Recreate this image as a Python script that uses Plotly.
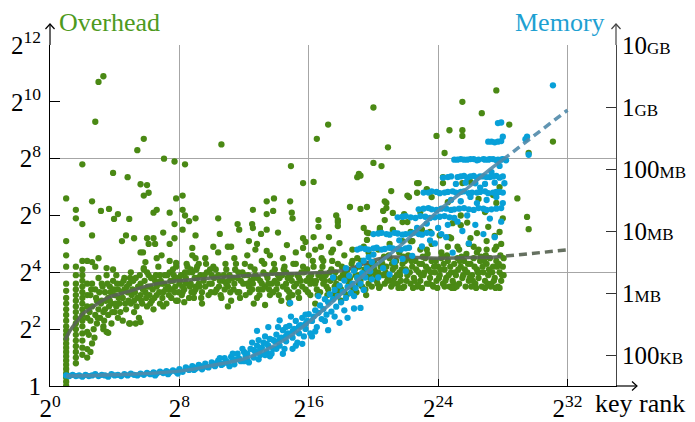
import plotly.graph_objects as go

# ---------------- data (log2 key rank, log2 overhead) ----------------
overhead_columns = [
    (1.0,0.0),(1.0,0.15),(1.0,0.3),(1.0,0.45),(1.0,0.6),(1.0,0.75),(1.0,0.9),(1.0,1.05),(1.0,1.2),(1.0,1.35),
    (1.0,1.5),(1.0,1.65),(1.0,1.8),(1.0,1.95),(1.0,2.1),(1.0,2.3),(1.0,2.5),(1.0,2.7),(1.0,2.9),(1.0,3.1),
    (1.0,3.35),(1.0,3.6),(1.0,4.2),(1.0,4.6),(1.0,5.1),(1.0,6.6),
    (1.6,0.8),(1.6,1.0),(1.6,1.2),(1.6,1.4),(1.6,1.6),(1.6,1.8),(1.6,2.0),(1.6,2.2),(1.6,2.4),(1.6,2.6),
    (1.6,2.8),(1.6,3.0),(1.6,3.2),(1.6,3.4),(1.6,3.6),(1.6,3.9),(1.6,4.2),(1.6,5.9),(1.6,6.2),
    (2.0,1.1),(2.0,1.35),(2.0,1.6),(2.0,1.85),(2.0,2.1),(2.0,2.3),(2.0,2.5),(2.0,2.7),(2.0,2.9),(2.0,3.1),
    (2.0,3.3),(2.0,3.5),(2.0,3.7),(2.0,3.9),(2.0,4.1),(2.0,4.4),(2.0,5.7),(2.0,7.8),
    (2.3,1.0),(2.3,1.3),(2.3,1.9),(2.3,2.4),(2.3,2.8),(2.3,3.2),(2.3,3.6),(2.3,4.4),
]
overhead_left = [
    (2.5,1.2),(2.6,1.5),(2.4,1.8),(2.7,2.0),(2.5,2.3),(2.8,2.5),(2.6,2.8),(2.9,3.0),(2.5,3.2),(2.8,3.4),
    (2.6,3.6),(3.0,3.8),(2.9,2.2),(3.0,2.7),(3.1,2.4),(3.2,3.0),(3.2,3.6),(3.3,2.0),(3.4,2.7),(3.4,3.3),
    (3.5,1.9),(3.5,3.9),(3.6,2.5),(3.6,3.1),(3.7,3.5),(3.8,2.2),(3.8,2.9),(3.9,3.7),(4.0,2.6),(4.0,3.2),
    (4.1,3.9),(4.2,2.4),(4.2,3.4),(4.3,2.9),(4.4,3.6),(4.5,3.1),(4.5,2.3),(4.6,3.8),(4.7,2.7),(4.8,3.3),
    (4.9,2.2),(4.9,3.6),(5.0,2.9),(5.0,4.0),(5.1,3.4),(5.2,2.6),(5.3,3.8),(5.4,3.1),(5.5,2.4),(5.6,3.6),
    (5.7,2.9),(5.8,4.1),(5.9,3.3),(6.0,2.8),(6.1,3.9),(6.2,3.5),(6.3,3.0),(6.4,2.7),(6.5,3.7),(6.6,3.2),
    (6.7,4.2),(6.8,2.9),(6.9,3.6),(7.0,3.3),(7.1,3.9),(7.2,2.9),(7.3,3.5),(7.4,4.0),(7.5,3.1),(7.6,3.7),
    (7.7,3.3),(7.8,4.2),(7.9,3.0),(8.0,3.6),(5.3,2.2),(6.0,4.0),(6.8,3.9),(7.6,4.1),(3.3,2.6),(3.7,3.0),
    (4.1,2.8),(4.6,3.4),(5.2,3.0),(5.6,3.2),(6.2,2.9),(6.6,3.5),(7.0,2.8),(7.4,3.4),(7.8,3.0),(8.2,3.3),
    (8.4,3.8),(8.6,3.1),(8.8,4.0),(9.0,3.5),(8.3,2.95),(8.9,3.3),(3.3,2.1),(3.6,1.87),(4.95,2.2),(5.6,2.25),
]
overhead_left_dense = [
    (2.45,2.6),(2.55,3.4),(2.75,1.7),(2.85,3.1),(2.95,2.4),(3.05,3.3),(3.15,2.9),(3.25,3.5),(3.35,2.3),(3.45,3.0),
    (3.55,3.6),(3.65,2.8),(3.75,3.3),(3.85,2.6),(3.95,3.4),(4.05,2.9),(4.15,3.6),(4.25,3.1),(4.35,2.6),(4.45,3.3),
    (4.55,3.7),(4.65,2.9),(4.75,3.5),(4.85,3.0),(4.95,3.8),(5.05,3.2),(5.15,3.7),(5.25,3.3),(5.35,2.8),(5.45,3.5),
    (5.55,3.9),(5.65,3.0),(5.75,3.4),(5.85,3.7),(5.95,3.1),(6.05,3.5),(6.15,3.2),(6.25,3.8),(6.35,3.4),(6.45,3.1),
    (6.55,3.9),(6.65,3.6),(6.75,3.3),(6.85,3.7),(6.95,3.1),(7.05,3.6),(7.15,3.4),(7.25,3.9),(7.35,3.2),(7.45,3.7),
    (7.55,3.4),(7.65,3.9),(7.75,3.5),(7.85,3.8),(7.95,3.3),
]
overhead_middle = [
    (8.1,3.9),(8.3,3.4),(8.5,4.2),(8.7,3.6),(8.9,3.1),(9.1,3.8),(9.2,4.3),(9.4,3.3),(9.5,3.7),(9.7,4.0),
    (9.8,3.2),(10.0,3.6),(10.1,4.2),(10.3,3.4),(10.4,3.9),(10.6,3.1),(10.7,3.7),(10.9,4.1),(11.0,3.5),(11.2,3.0),
    (11.3,3.8),(11.5,4.3),(11.6,3.3),(11.8,3.7),(11.9,4.0),(12.1,3.2),(12.2,3.6),(12.4,4.2),(12.5,3.4),(12.7,3.9),
    (12.8,3.1),(13.0,3.7),(13.1,4.4),(13.3,3.5),(13.4,3.9),(13.6,3.2),(13.7,3.6),(13.9,4.1),(14.0,3.4),(14.2,3.8),
    (14.3,3.0),(14.5,4.2),(14.6,3.6),(14.8,3.3),(14.9,3.9),(15.1,3.5),(15.2,4.3),(15.4,3.1),(15.5,3.7),(15.7,4.0),
    (15.8,3.4),(16.0,3.8),(16.1,3.2),(16.3,4.2),(16.4,3.6),(16.6,3.9),(16.7,3.3),(16.9,4.4),(17.0,3.7),(17.2,3.4),
    (17.3,4.0),(17.5,3.2),(17.6,3.8),(17.8,4.3),(17.9,3.5),(18.1,3.9),(18.2,3.3),(18.4,4.1),(18.5,3.6),(18.7,4.4),
    (18.8,3.4),(19.0,3.8),(19.1,4.2),(19.3,3.5),(19.4,3.9),(19.6,4.3),(19.7,3.6),(19.9,4.0),
    (8.2,3.5),(8.6,4.0),(9.0,3.4),(9.3,3.9),(9.6,3.5),(9.9,4.1),(10.2,3.3),(10.5,3.7),(10.8,3.4),(11.1,3.9),
    (11.4,3.6),(11.7,3.3),(12.0,3.9),(12.3,3.5),(12.6,3.8),(12.9,3.4),(13.2,4.0),(13.5,3.6),(13.8,3.3),(14.1,3.9),
    (14.4,3.5),(14.7,3.8),(15.0,3.2),(15.3,3.9),(15.6,3.5),(15.9,4.1),(16.2,3.7),(16.5,3.4),(16.8,3.8),(17.1,3.5),
    (17.4,4.1),(17.7,3.6),(18.0,3.4),(18.3,3.8),(18.6,3.5),(18.9,3.9),(19.2,3.7),(19.5,3.4),(19.8,3.8),
    (8.4,3.6),(9.2,3.6),(10.0,3.9),(10.9,3.6),(11.6,3.8),(12.4,3.7),(13.1,3.6),(13.9,3.7),(14.6,4.0),(15.4,3.8),
    (16.1,3.6),(16.9,3.6),(17.6,3.5),(18.4,3.7),(19.1,3.6),(19.9,3.5),
    (8.8,4.6),(9.6,4.5),(10.4,4.7),(11.4,4.5),(12.2,4.6),(13.6,4.6),(14.4,4.5),(15.2,4.7),(16.0,4.6),(16.8,4.5),
    (17.4,4.7),(18.2,4.6),(19.0,4.5),(19.7,4.7),(9.4,2.9),(11.0,2.8),(12.6,2.9),(14.8,2.9),(16.4,2.9),(18.0,3.0),
    (13.3,2.85),
]
overhead_middle_dense = [
    (8.05,3.7),(8.35,4.0),(8.65,3.5),(8.95,3.8),(9.25,3.5),(9.55,3.9),(9.85,3.6),(10.15,3.8),(10.45,3.5),(10.75,3.9),
    (11.05,3.7),(11.35,3.4),(11.65,4.0),(11.95,3.6),(12.25,3.9),(12.55,3.6),(12.85,3.8),(13.15,3.4),(13.45,3.8),(13.75,4.0),
    (14.05,3.6),(14.35,3.9),(14.65,3.4),(14.95,3.7),(15.25,3.6),(15.55,4.0),(15.85,3.7),(16.15,3.9),(16.45,3.7),(16.75,4.0),
    (17.05,3.9),(17.35,3.7),(17.65,4.0),(17.95,3.8),(18.25,4.0),(18.55,3.8),(18.85,4.1),(19.15,3.9),(19.45,4.1),(19.75,3.9),
    (8.15,3.2),(8.75,3.3),(9.35,3.1),(9.95,3.3),(10.55,3.2),(11.15,3.3),(11.75,3.1),(12.35,3.3),(12.95,3.2),(13.55,3.4),
    (14.15,3.2),(14.75,3.1),(15.35,3.3),(15.95,3.3),(16.55,3.2),(17.15,3.2),(17.75,3.3),(18.35,3.2),(18.95,3.3),(19.55,3.2),
    (8.45,4.3),(9.05,4.1),(9.65,4.3),(10.25,4.1),(10.85,4.3),(11.45,4.1),(12.05,4.3),(12.65,4.1),(13.25,4.3),(13.85,4.3),
    (14.45,4.1),(15.05,4.3),(15.65,4.2),(16.25,4.4),(16.85,4.2),(17.45,4.4),(18.05,4.2),(18.65,4.3),(19.25,4.4),(19.85,4.2),
]
overhead_right = [
    (20.1,4.3),(20.2,3.7),(20.3,4.0),(20.4,3.5),(20.5,4.4),(20.6,3.9),(20.7,3.6),(20.8,4.2),(20.9,3.8),(21.0,4.5),
    (21.1,3.5),(21.2,4.1),(21.3,3.8),(21.4,4.4),(21.5,3.6),(21.6,4.0),(21.7,3.7),(21.8,4.3),(21.9,3.5),(22.0,4.1),
    (22.1,3.9),(22.2,4.5),(22.3,3.6),(22.4,4.2),(22.5,3.8),(22.6,4.4),(22.7,3.5),(22.8,4.0),(22.9,3.7),(23.0,4.3),
    (23.1,3.9),(23.2,4.5),(23.3,3.6),(23.4,4.1),(23.5,3.8),(23.6,4.4),(23.7,3.5),(23.8,4.0),(23.9,3.7),(24.0,4.2),
    (24.1,3.9),(24.2,4.5),(24.3,3.6),(24.4,4.1),(24.5,3.8),(24.6,4.4),(24.7,3.5),(24.8,4.0),(24.9,3.7),(25.0,4.3),
    (25.1,3.9),(25.2,4.5),(25.3,3.6),(25.4,4.2),(25.5,3.8),(25.6,4.4),(25.7,3.5),(25.8,4.0),(25.9,3.7),(26.0,4.3),
    (26.1,3.9),(26.2,4.5),(26.3,3.6),(26.4,4.1),(26.5,3.8),(26.6,4.4),(26.7,3.5),(26.8,4.0),(26.9,3.7),(27.0,4.3),
    (27.1,3.9),(27.2,4.5),(27.3,3.6),(27.4,4.2),(27.5,3.8),(27.6,4.4),(27.7,3.5),(27.8,4.0),(27.9,3.7),(28.0,4.2),
    (20.15,3.9),(20.45,4.2),(20.75,4.0),(21.05,3.7),(21.35,4.2),(21.65,3.9),(21.95,4.4),(22.25,4.0),(22.55,3.7),(22.85,4.3),
    (23.15,4.0),(23.45,3.6),(23.75,4.2),(24.05,3.8),(24.35,4.3),(24.65,3.9),(24.95,3.6),(25.25,4.1),(25.55,3.9),(25.85,4.3),
    (26.15,3.7),(26.45,4.0),(26.75,4.2),(27.05,3.6),(27.35,4.0),(27.65,4.2),(27.95,3.9),(23.0,3.45),(25.0,3.45),(26.9,3.45),
    (21.8,3.45),(24.4,3.5),(27.8,3.45),
    (20.3,4.8),(21.0,5.0),(21.6,4.7),(22.3,5.1),(22.9,4.8),(23.6,5.0),(24.2,4.7),(24.8,5.2),(25.3,4.8),(25.9,5.0),
    (26.4,4.7),(27.0,5.1),(27.5,4.8),(27.9,5.0),(23.3,4.8),(24.6,4.9),(25.2,4.9),(26.2,4.9),(26.5,4.8),(27.0,4.8),
    (27.6,4.9),(22.4,5.1),
]
overhead_right_dense = [
    (20.05,4.1),(20.25,3.6),(20.55,4.3),(20.85,3.7),(21.15,4.3),(21.45,3.9),(21.75,4.1),(22.05,3.7),(22.35,4.4),(22.65,4.1),
    (22.95,3.9),(23.25,4.2),(23.55,4.0),(23.85,4.4),(24.15,4.1),(24.45,3.7),(24.75,4.2),(25.05,4.0),(25.35,4.4),(25.65,4.1),
    (25.95,3.8),(26.25,4.2),(26.55,4.0),(26.85,4.4),(27.15,4.1),(27.45,3.7),(27.75,4.3),(28.05,3.9),
    (20.35,3.45),(20.95,4.6),(21.55,3.45),(22.15,4.6),(22.75,3.55),(23.35,4.65),(23.95,3.45),(24.55,4.6),(25.15,3.5),(25.75,4.65),
    (26.35,3.45),(26.95,4.6),(27.55,3.45),(28.05,4.5),(20.65,4.55),(21.25,3.6),(21.85,4.55),(22.45,3.45),(23.05,4.55),(23.65,3.55),
    (24.25,4.55),(24.85,3.45),(25.45,4.55),(26.05,3.5),(26.65,4.55),(27.25,3.5),(27.85,4.6),
]
overhead_outliers = [
    (2.8,9.3),(3.0,10.7),(3.3,10.9),(5.8,8.7),(5.4,8.3),(7.05,8.0),(7.7,7.9),(8.35,7.8),(3.9,7.5),(4.8,7.35),
    (10.6,8.5),(16.5,8.7),(17.2,9.2),(20.0,9.8),(20.9,8.4),(23.9,8.8),(24.4,8.2),(24.7,9.0),(25.5,9.0),(25.5,8.8),
    (25.5,10.0),(26.7,9.6),(27.6,10.4),(28.4,9.2),(29.6,8.2),(31.1,8.6),
    (2.6,6.5),(3.15,6.16),(3.65,6.23),(3.96,5.88),(4.2,6.05),(4.9,5.88),(5.6,7.1),(6.0,7.07),(5.8,6.7),(6.1,6.8),
    (6.4,6.1),(6.6,6.2),(7.4,6.1),(7.8,6.6),(8.2,6.7),(8.2,6.2),(8.35,6.0),(8.6,5.8),(9.0,5.9),(7.7,5.7),
    (8.2,5.5),(9.0,5.3),(8.8,4.86),(7.0,5.4),(7.4,5.0),(7.7,5.2),(2.6,5.3),(4.45,5.1),(4.7,5.3),(5.2,5.2),
    (6.0,5.2),(6.1,5.0),(6.4,5.2),(6.5,5.0),(6.9,4.6),(5.6,4.7),(5.75,4.7),(6.6,4.5),(3.0,4.5),(2.6,4.36),
    (2.8,4.2),(3.5,4.15),(3.9,4.1),(5.9,4.36),(5.8,4.15),(7.4,4.4),(7.8,4.33),(9.0,4.5),(9.1,4.2),(8.7,4.1),
    (10.4,5.9),(11.6,5.7),(11.7,5.5),(12.55,6.2),(13.4,6.5),(13.85,6.6),(13.4,6.05),(13.8,6.16),(14.9,7.74),(15.65,7.14),
    (16.3,7.18),(14.85,6.5),(14.95,6.1),(15.0,5.9),(16.6,5.84),(17.8,5.84),(12.5,5.7),(12.55,5.56),(13.05,5.35),(13.4,5.5),
    (14.1,5.4),(10.5,5.35),(10.1,4.9),(11.0,4.9),(11.2,4.9),(12.3,5.1),(12.8,5.0),(12.7,4.8),(13.4,4.75),(14.65,4.96),
    (15.65,5.2),(15.8,5.07),(16.3,5.24),(16.6,5.6),(17.25,5.24),(15.65,4.86),(16.4,4.8),(16.75,4.9),(17.5,4.8),
    (20.0,7.85),(20.5,7.74),(19.2,7.4),(21.1,6.86),(22.1,6.7),(22.7,7.14),(23.3,6.93),(23.6,6.65),(22.9,6.12),(24.3,7.35),
    (24.3,7.14),(24.6,6.47),(25.5,7.14),(26.0,7.18),(26.5,6.58),(26.9,6.12),(27.4,6.72),(27.6,6.44),(27.8,7.0),(28.0,5.9),
    (27.1,5.6),(27.5,5.28),(27.8,5.42),(26.4,5.38),(26.0,5.2),(25.4,6.0),(25.4,5.66),(25.8,5.75),(24.9,5.73),(24.7,5.24),
    (24.1,5.3),(23.5,5.42),(23.0,5.5),(22.3,5.42),(21.8,5.77),(21.2,6.09),(20.8,6.44),(20.7,5.84),(19.7,5.38),(19.6,5.14),
    (20.4,5.56),(21.2,5.5),(22.1,5.77),(21.8,5.1),(22.4,5.1),(28.9,6.6),(29.5,5.95),(29.6,5.52),(18.55,6.3),(19.2,6.23),
    (19.6,6.3),(17.7,6.0),(17.8,5.77),(17.8,5.63),(17.9,5.03),(19.4,5.56),(19.6,5.4),(20.4,5.5),(19.4,4.9),(18.7,4.8),
    (19.0,7.35),(19.1,7.46),(20.7,6.5),(20.8,6.26),(20.6,6.16),(22.8,7.14),(23.3,6.9),(22.7,6.8),(22.2,6.65),(21.9,6.05),
]

# ---------------- data (log2 key rank, log10 memory bytes) ----------------
memory_flat = [
    (1.0,4.67),(1.2,4.66),(1.4,4.68),(1.6,4.66),(1.8,4.67),(2.0,4.65),(2.2,4.68),(2.4,4.66),(2.6,4.67),(2.8,4.69),
    (3.0,4.66),(3.2,4.68),(3.4,4.67),(3.6,4.65),(3.8,4.69),(4.0,4.67),(4.2,4.68),(4.4,4.66),(4.6,4.69),(4.8,4.67),
    (5.0,4.70),(5.2,4.68),(5.4,4.67),(5.6,4.70),(5.8,4.68),(6.0,4.71),(6.2,4.69),(6.4,4.72),(6.6,4.70),(6.8,4.73),
    (7.0,4.71),(7.2,4.74),(7.4,4.72),(7.6,4.75),(7.8,4.73),(8.0,4.77),(7.9,4.70),(7.3,4.69),(6.5,4.67),
]
memory_rise = [
    (8.2,4.73),(8.4,4.80),(8.6,4.76),(8.8,4.82),(9.0,4.78),(9.2,4.84),(9.4,4.77),(9.6,4.86),(9.8,4.80),(10.0,4.88),
    (10.2,4.82),(10.4,4.91),(10.6,4.84),(10.8,4.95),(11.0,4.87),(11.2,4.97),(11.4,4.85),(11.6,5.02),(11.8,4.90),(12.0,5.05),
    (12.2,4.92),(12.4,5.10),(12.6,4.96),(12.8,5.15),(13.0,5.00),(13.2,5.20),(13.4,5.05),(13.6,5.26),(13.8,5.10),(14.0,5.33),
    (14.2,5.15),(14.4,5.40),(14.6,5.22),(14.8,5.47),(15.0,5.28),(15.2,5.55),(15.4,5.35),(15.6,5.60),(15.8,5.42),(16.0,5.66),
    (9.1,4.80),(10.1,4.84),(10.9,4.90),(11.5,4.93),(12.1,4.98),(12.7,5.05),(13.1,5.12),(13.5,5.15),(13.9,5.22),(14.3,5.28),
    (14.7,5.35),(15.1,5.42),(15.5,5.48),(15.9,5.55),(12.5,5.20),(13.3,5.30),(14.1,5.45),(14.9,5.62),(11.9,5.10),(12.9,4.93),
    (13.7,5.02),(14.5,5.10),(15.3,5.20),(15.7,5.30),(11.1,4.82),(12.3,4.88),(13.6,4.98),(14.4,5.02),(15.0,5.10),(15.6,5.18),
    (16.2,5.30),(14.85,5.84),(12.8,5.39),(14.2,5.56),(13.5,5.45),
    (16.2,5.55),(16.4,5.72),(16.5,5.45),(16.7,5.80),(16.8,5.58),(17.0,5.90),(17.1,5.65),(17.3,5.98),(17.4,5.70),(17.6,6.05),
    (17.7,5.78),(17.9,6.12),(18.0,5.85),(18.2,6.20),(18.3,5.92),(18.5,6.28),(18.6,6.00),(18.8,6.36),(18.9,6.08),(19.1,6.45),
    (19.2,6.15),(19.4,6.52),(19.5,6.25),(19.7,6.58),(19.8,6.35),(20.0,6.62),(17.9,5.52),(18.4,5.60),(19.2,5.76),(18.8,5.75),
    (17.2,5.40),(16.6,5.95),(17.5,6.25),(18.3,6.40),(19.0,6.70),(16.1,5.35),
]
memory_rise_dense = [
    (8.5,4.78),(8.9,4.76),(9.3,4.82),(9.7,4.81),(10.3,4.87),(10.7,4.86),(11.3,4.92),(11.7,4.94),(12.2,5.02),(12.6,5.08),
    (13.0,5.09),(13.4,5.18),(13.8,5.24),(14.2,5.25),(14.6,5.31),(15.0,5.38),(15.4,5.46),(15.8,5.50),(16.3,5.62),(16.6,5.68),
    (16.9,5.74),(17.2,5.85),(17.5,5.90),(17.8,5.95),(18.1,6.02),(18.4,6.10),(18.7,6.15),(19.0,6.25),(19.3,6.32),(19.6,6.40),
    (19.9,6.50),(10.5,4.95),(11.3,5.02),(12.0,4.90),(12.9,5.24),(13.3,5.00),(14.0,5.10),(14.6,5.45),(15.2,5.15),(15.8,5.65),
    (16.4,5.38),(17.0,5.55),(17.6,5.62),(18.2,5.72),(18.8,5.95),(19.4,6.05),(19.9,6.22),
]
memory_upper = [
    (25.0,8.15),(25.4,8.16),(25.8,8.15),(26.2,8.16),(26.5,8.15),(26.8,8.16),(27.1,8.15),(27.4,8.16),(27.7,8.15),(28.0,8.16),
    (28.2,8.14),(24.3,7.86),(24.8,7.88),(25.2,7.87),(25.6,7.89),(26.0,7.88),(26.4,7.86),(26.8,7.88),(27.2,7.87),(27.6,7.89),
    (28.0,7.88),(25.1,7.76),(25.7,7.78),(26.3,7.77),(26.9,7.76),(27.5,7.78),(28.1,7.77),
    (23.1,7.62),(23.6,7.64),(24.1,7.61),(24.6,7.63),(25.1,7.62),(25.6,7.64),(26.1,7.62),(26.6,7.63),(27.1,7.61),(27.6,7.63),
    (28.0,7.62),(22.8,7.35),(23.4,7.37),(23.9,7.34),(24.5,7.36),(25.0,7.35),(25.6,7.37),(26.2,7.34),(26.8,7.36),(27.3,7.35),
    (27.9,7.37),(21.5,7.22),(22.0,7.24),(22.6,7.21),(23.2,7.23),(23.8,7.22),(24.4,7.24),(25.0,7.21),
    (20.0,6.95),(20.5,6.97),(21.0,6.94),(21.5,6.96),(22.0,6.95),(22.5,6.97),(23.0,6.94),(23.6,6.96),(24.2,6.95),
    (19.2,6.72),(19.7,6.70),(20.2,6.73),(20.7,6.71),(21.2,6.72),(21.7,6.70),(22.2,6.73),
    (21.3,6.50),(21.8,6.55),(22.4,6.60),(23.0,6.75),(23.5,6.85),(24.0,7.05),(24.6,7.10),(25.2,7.15),(25.8,7.25),(26.4,7.45),
    (27.0,7.50),(27.6,7.55),(28.0,7.45),(20.6,6.40),(21.0,6.30),(22.7,7.05),(23.3,7.12),(24.8,7.50),(25.4,7.48),(26.0,7.55),
    (26.6,7.70),(27.3,7.95),(27.8,8.05),(22.0,6.35),(20.3,6.25),(21.6,6.85),(23.8,6.80),(24.5,6.90),(25.5,7.00),(26.3,7.10),
    (27.2,7.20),(27.9,7.15),(26.8,6.95),(25.9,6.80),(24.9,6.65),(27.5,6.90),
]
memory_upper_dense = [
    (25.2,8.15),(25.6,8.15),(26.0,8.16),(26.4,8.14),(26.9,8.15),(27.2,8.16),(27.6,8.14),(27.9,8.15),(24.6,7.87),(25.4,7.88),
    (25.8,7.86),(26.2,7.89),(26.6,7.88),(27.0,7.87),(27.4,7.88),(27.8,7.86),(23.4,7.62),(23.9,7.63),(24.4,7.62),(24.9,7.64),
    (25.4,7.63),(25.9,7.61),(26.4,7.62),(26.9,7.64),(27.4,7.62),(27.8,7.63),(23.1,7.36),(23.6,7.35),(24.2,7.36),(24.8,7.34),
    (25.3,7.36),(25.9,7.35),(26.5,7.37),(27.0,7.34),(27.6,7.36),(21.8,7.23),(22.3,7.22),(22.9,7.24),(23.5,7.21),(24.1,7.23),
    (24.7,7.22),(20.3,6.96),(20.8,6.95),(21.3,6.97),(21.8,6.94),(22.3,6.96),(22.8,6.95),(23.3,6.97),(19.5,6.71),(20.0,6.72),
    (20.5,6.70),(21.0,6.73),(21.5,6.71),(22.0,6.72),
]
memory_outliers = [
    (31.1,9.35),(27.7,8.74),(27.9,8.75),(28.0,8.52),(27.1,8.44),(27.3,8.44),(27.5,8.43),(27.7,8.44),(27.9,8.45),
    (29.5,8.52),(29.6,8.23),(29.4,8.48),
]

# fitted trend curves
overhead_trend_rank = [0.93, 1.3, 1.65, 2.04, 2.3, 3.1, 3.7, 4.76, 6.2, 7.9, 10.0, 12.0, 14.0, 16.0, 17.3, 18.5, 19.4, 20.3, 21.0, 22.0, 24.0, 26.0, 27.4]
overhead_trend = [1.62, 2.0, 2.26, 2.55, 2.65, 2.96, 3.14, 3.31, 3.55, 3.7, 3.8, 3.88, 3.94, 3.98, 4.01, 4.12, 4.3, 4.47, 4.54, 4.53, 4.5, 4.52, 4.53]
overhead_extrap_rank = [27.4, 30.0, 32.0]
overhead_extrap = [4.53, 4.67, 4.79]
memory_trend_rank = [1.0, 4.0, 8.0, 10.0, 12.0, 13.0, 14.0, 15.0, 16.0, 17.0, 18.0, 19.0, 20.0, 21.0, 22.0, 23.0, 24.0, 25.0, 26.0, 27.0, 28.0]
memory_trend = [4.66, 4.68, 4.74, 4.83, 4.94, 5.04, 5.17, 5.33, 5.53, 5.75, 5.98, 6.2, 6.42, 6.62, 6.84, 7.08, 7.32, 7.53, 7.73, 7.95, 8.15]
memory_extrap_rank = [28.0, 30.0, 32.0]
memory_extrap = [8.15, 8.55, 8.95]

x_tick_exp = [0, 8, 16, 24, 32]
y_tick_exp = [0, 2, 4, 6, 8, 10, 12]
y_grid_exp = [4, 8, 12]
mem_tick_exp = [5, 6, 7, 8, 9, 10]
mem_tick_num = ["100", "1", "10", "100", "1", "10"]
mem_tick_unit = ["KB", "MB", "MB", "MB", "GB", "GB"]

GREEN = "#4a8914"
BLUE = "#08a0d8"
FONT = "Liberation Serif, Times New Roman, serif"

ov_pts = (overhead_columns + overhead_left + overhead_left_dense + overhead_middle + overhead_middle_dense
          + overhead_right + overhead_right_dense + overhead_outliers)
mem_pts = memory_flat + memory_rise + memory_rise_dense + memory_upper + memory_upper_dense + memory_outliers

fig = go.Figure()
fig.add_trace(go.Scatter(
    x=[2 ** p[0] for p in ov_pts], y=[2 ** p[1] for p in ov_pts], mode="markers",
    marker=dict(size=6.3, color=GREEN, line=dict(width=0)), hoverinfo="skip"))
fig.add_trace(go.Scatter(
    x=[2 ** v for v in overhead_trend_rank], y=[2 ** v for v in overhead_trend], mode="lines",
    line=dict(color="rgba(88,100,82,0.92)", width=3.5, shape="spline"), hoverinfo="skip"))
fig.add_trace(go.Scatter(
    x=[2 ** v for v in overhead_extrap_rank], y=[2 ** v for v in overhead_extrap], mode="lines",
    line=dict(color="rgba(88,100,82,0.92)", width=3.5, dash="8px,5px"), hoverinfo="skip"))
fig.add_trace(go.Scatter(
    x=[2 ** p[0] for p in mem_pts], y=[10 ** p[1] for p in mem_pts], mode="markers", yaxis="y2",
    marker=dict(size=6.3, color=BLUE, line=dict(width=0)), hoverinfo="skip"))
fig.add_trace(go.Scatter(
    x=[2 ** v for v in memory_trend_rank], y=[10 ** v for v in memory_trend], mode="lines", yaxis="y2",
    line=dict(color="rgba(80,138,170,0.9)", width=3.5, shape="spline"), hoverinfo="skip"))
fig.add_trace(go.Scatter(
    x=[2 ** v for v in memory_extrap_rank], y=[10 ** v for v in memory_extrap], mode="lines", yaxis="y2",
    line=dict(color="rgba(80,138,170,0.9)", width=3.5, dash="8px,5px"), hoverinfo="skip"))
fig.add_trace(go.Scatter(x=[1], y=[1], mode="markers", yaxis="y3", marker=dict(opacity=0), hoverinfo="skip"))

LOG2 = 0.30103
# the page adds an 8px body margin, so the plot area is placed to land at x 50-616, y 45-386 in the window
fig.update_layout(
    width=695, height=422, showlegend=False,
    margin=dict(l=42, r=87, t=37, b=44, autoexpand=False),
    paper_bgcolor="white", plot_bgcolor="white",
    font=dict(family=FONT, size=25, color="black"),
    xaxis=dict(type="log", range=[0, 35 * LOG2], tickvals=[2 ** e for e in x_tick_exp],
               ticktext=[f"2<sup>{e}</sup>" for e in x_tick_exp], ticklabelstandoff=0, automargin=False,
               showgrid=True, gridcolor="#a6a6a6", gridwidth=1.1, zeroline=False,
               showline=True, linecolor="black", linewidth=1.2,
               ticks="inside", ticklen=7, tickwidth=1.2, tickcolor="black"),
    yaxis=dict(type="log", range=[0, 12 * LOG2], tickvals=[2 ** e for e in y_tick_exp],
               ticktext=["1"] + [f"2<sup>{e}</sup>" for e in y_tick_exp[1:]], ticklabelstandoff=3,
               automargin=False,
               showgrid=False, zeroline=False, showline=True, linecolor="black", linewidth=1.2,
               ticks="inside", ticklen=10, tickwidth=1.2, tickcolor="black"),
    yaxis2=dict(type="log", range=[4.5, 10.0], overlaying="y", side="right", anchor="x", automargin=False,
                tickvals=[10 ** e for e in mem_tick_exp],
                ticktext=[f"{n}<span style='font-size:17px'>{u}</span>" for n, u in zip(mem_tick_num, mem_tick_unit)],
                showgrid=False, zeroline=False, showline=True, linecolor="#444", linewidth=1.2,
                ticks="inside", ticklen=10, tickwidth=1.2, tickcolor="#333"),
    yaxis3=dict(type="log", range=[0, 12 * LOG2], overlaying="y", side="left", anchor="x", automargin=False,
                tickvals=[2 ** e for e in y_grid_exp], showticklabels=False, ticks="",
                showgrid=True, gridcolor="#a6a6a6", gridwidth=1.1, zeroline=False, showline=False),
)

# axis arrows (paper coordinates)
line_k = dict(color="black", width=1.2)
fig.add_shape(type="line", xref="paper", yref="paper", x0=0, y0=1, x1=0, y1=1.0616, line=line_k)
fig.add_shape(type="path", xref="paper", yref="paper", path="M -0.008,1.0469 L 0,1.0616 L 0.008,1.0469", line=line_k)
fig.add_shape(type="line", xref="paper", yref="paper", x0=1, y0=1, x1=1, y1=1.0616, line=dict(color="#444", width=1.2))
fig.add_shape(type="path", xref="paper", yref="paper", path="M 0.992,1.0469 L 1,1.0616 L 1.008,1.0469", line=dict(color="#444", width=1.2))
fig.add_shape(type="line", xref="paper", yref="paper", x0=1, y0=0, x1=1.0371, y1=0, line=line_k)
fig.add_shape(type="path", xref="paper", yref="paper", path="M 1.0283,0.0132 L 1.0371,0 L 1.0283,-0.0132", line=line_k)

fig.add_annotation(text="Overhead", xref="paper", yref="paper", x=(57 - 50) / 566, y=1.0674, xanchor="left", yanchor="middle",
                   showarrow=False, font=dict(family=FONT, size=26, color="#4e9a1e"))
fig.add_annotation(text="Memory", xref="paper", yref="paper", x=(607 - 50) / 566, y=1.0674, xanchor="right", yanchor="middle",
                   showarrow=False, font=dict(family=FONT, size=26, color="#1ea0d2"))
fig.add_annotation(text="key rank", xref="paper", yref="paper", x=(593 - 50) / 566, y=-0.05, xanchor="left", yanchor="middle",
                   showarrow=False, font=dict(family=FONT, size=26, color="black"))

fig.write_html("out.html")
